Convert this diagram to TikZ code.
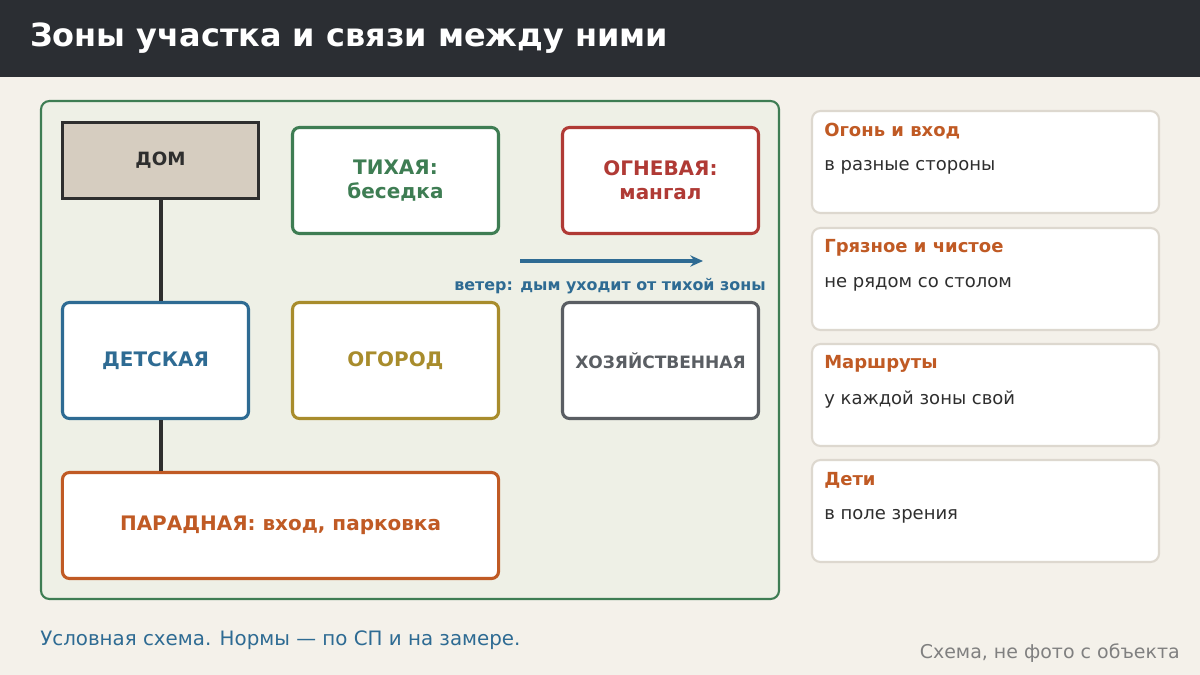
\documentclass[tikz,border=0pt]{standalone}
\usepackage{fontspec}
\setmainfont{DejaVu Sans}
\usetikzlibrary{positioning,arrows.meta}
\definecolor{bgc}{HTML}{F4F1EA}
\definecolor{headc}{HTML}{2B2E33}
\definecolor{panelc}{HTML}{EEF0E6}
\definecolor{greenc}{HTML}{3E7D53}
\definecolor{redc}{HTML}{B03A35}
\definecolor{bluec}{HTML}{2E6B93}
\definecolor{olivec}{HTML}{A88C2C}
\definecolor{grayc}{HTML}{5A5E63}
\definecolor{orangec}{HTML}{C05A24}
\definecolor{housec}{HTML}{D6CDC0}
\definecolor{darkc}{HTML}{2E2E2E}
\definecolor{cardc}{HTML}{DDD8CF}
\begin{document}
\begin{tikzpicture}[x=0.025cm, y=-0.025cm, >=stealth]
    \tikzset{zone/.style={draw, line width=2.2pt, rounded corners=5pt, fill=white, font=\fontsize{14.2}{17}\selectfont\bfseries, align=center}}
    \tikzset{card/.style={draw=cardc, line width=1.5pt, rounded corners=6pt, fill=white}}
    \tikzset{ctitle/.style={anchor=west, inner sep=0pt, text=orangec, font=\fontsize{12.8}{15}\selectfont\bfseries}}
    \tikzset{ctext/.style={anchor=west, inner sep=0pt, text=darkc, font=\fontsize{12.8}{15}\selectfont}}
  \fill[bgc] (0,0) rectangle (1200,675);
  \useasboundingbox (0,0) rectangle (1200,675);
  \fill[headc] (0,0) rectangle (1200,77);
  \node (title) at (30,38) [anchor=west, inner sep=0pt, text=white, font=\fontsize{22.7}{27}\selectfont\bfseries] {Зоны участка и связи между ними};

  %% site panel
  \draw[greenc, line width=1.5pt, fill=panelc, rounded corners=6pt] (41,101) rectangle (779,599);

  \node (dom) at (160.5,160.5) [zone, draw=darkc, fill=housec, rounded corners=0pt, text=darkc, minimum width=4.9cm, minimum height=1.9cm, font=\fontsize{13}{15}\selectfont\bfseries] {ДОМ};
  \node (quiet) at (395.5,180.5) [zone, draw=greenc, text=greenc, minimum width=5.15cm, minimum height=2.65cm] {ТИХАЯ:\\беседка};
  \node (fire) at (660.5,180.5) [zone, draw=redc, text=redc, minimum width=4.9cm, minimum height=2.65cm] {ОГНЕВАЯ:\\мангал};
  \node (kids) at (155.5,360.5) [zone, draw=bluec, text=bluec, minimum width=4.65cm, minimum height=2.9cm] {ДЕТСКАЯ};
  \node (garden) at (395.5,360.5) [zone, draw=olivec, text=olivec, minimum width=5.15cm, minimum height=2.9cm] {ОГОРОД};
  \node (utility) at (660.5,360.5) [zone, draw=grayc, text=grayc, minimum width=4.9cm, minimum height=2.9cm, font=\fontsize{12.1}{14}\selectfont\bfseries] {ХОЗЯЙСТВЕННАЯ};
  \node (front) at (280.5,525.5) [zone, draw=orangec, text=orangec, minimum width=10.9cm, minimum height=2.65cm] {ПАРАДНАЯ: вход, парковка};

  \draw[darkc, line width=2.2pt] (dom.south -| 161,0) -- (kids.north -| 161,0);
  \draw[darkc, line width=2.2pt] (kids.south -| 161,0) -- (front.north -| 161,0);

  %% wind
  \coordinate (w1) at (520,261);
  \coordinate (w2) at (703,261);
  \draw[-{Stealth[length=9pt,width=8pt]}, bluec, line width=2.4pt] (w1) -- (w2);
  \node (wind) at (610,286) [text=bluec, font=\fontsize{11.3}{13}\selectfont\bfseries] {ветер: дым уходит от тихой зоны};

  %% cards
  \foreach \y/\t/\s in {111/Огонь и вход/в разные стороны, 228/Грязное и чистое/не рядом со столом, 344/Маршруты/у каждой зоны свой, 460/Дети/в поле зрения} {
    \draw[card] (812,\y) rectangle (1159,\y+102);
    \node at (824,\y+20) [ctitle] {\t};
    \node at (824,\y+56) [ctext] {\s};
  }

  \node (note) at (40,640) [anchor=west, inner sep=0pt, text=bluec, font=\fontsize{14.1}{16}\selectfont] {Условная схема. Нормы — по СП и на замере.};
  \node (credit) at (1180,653) [anchor=east, inner sep=0pt, text=gray, font=\fontsize{13.5}{16}\selectfont] {Схема, не фото с объекта};
\end{tikzpicture}
\end{document}
